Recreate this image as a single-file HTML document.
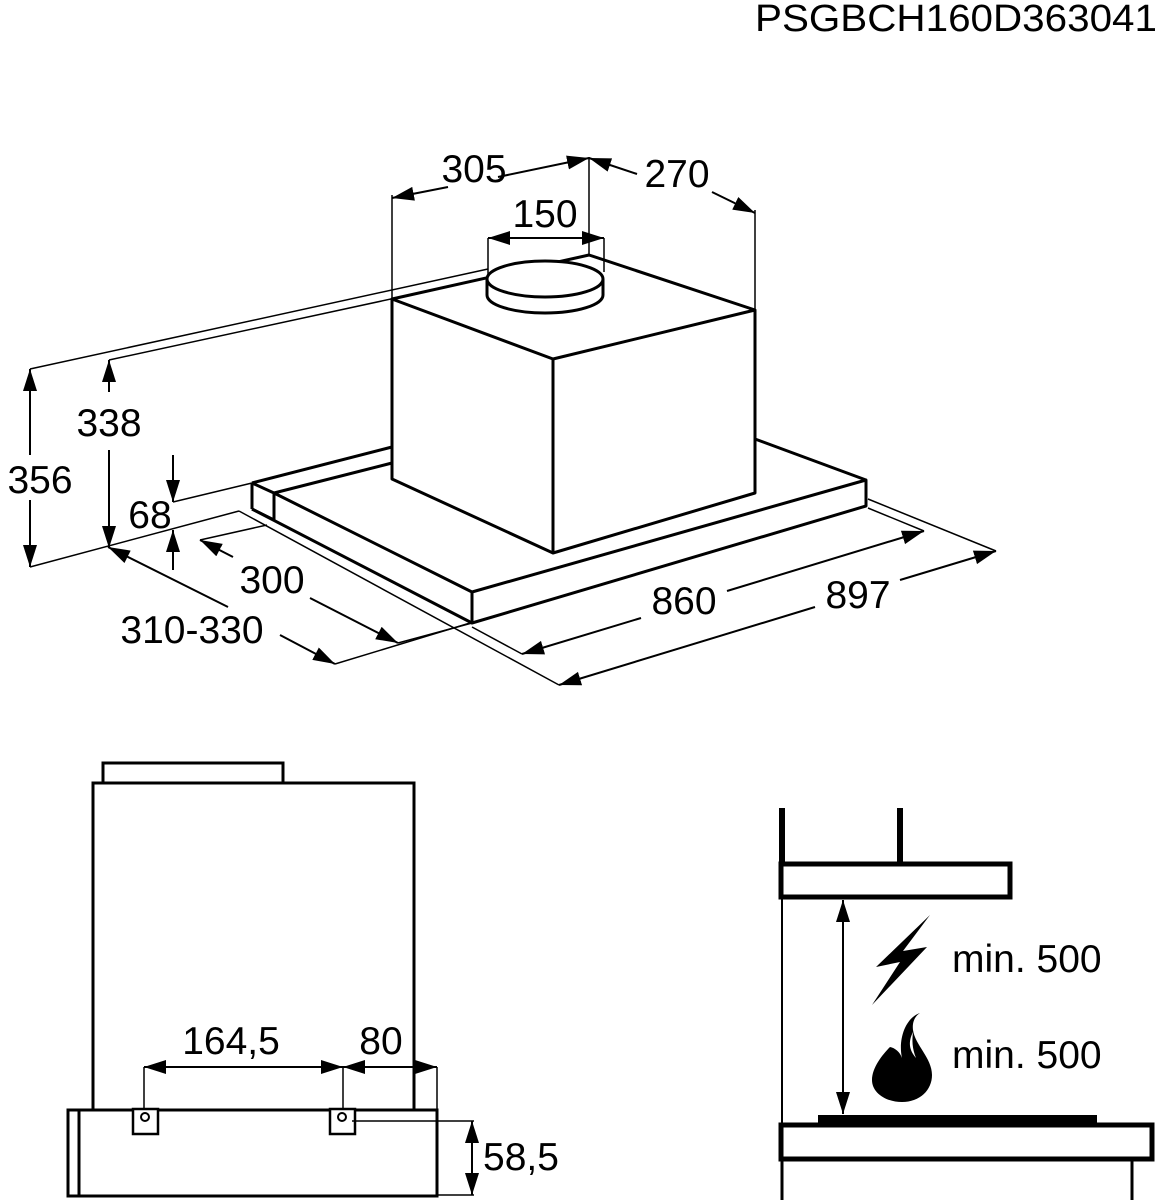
<!DOCTYPE html>
<html><head><meta charset="utf-8"><style>
html,body{margin:0;padding:0;background:#fff;}
svg{display:block;}
text{font-family:"Liberation Sans",Arial,sans-serif;fill:#000;}
</style></head><body>
<svg width="1157" height="1200" viewBox="0 0 1157 1200" xmlns="http://www.w3.org/2000/svg">
<defs>
<marker id="a" markerUnits="userSpaceOnUse" markerWidth="24" markerHeight="16" refX="22" refY="7" orient="auto-start-reverse">
<path d="M0,0 L22,7 L0,14 z" fill="#000"/>
</marker>
</defs>
<text x="1157" y="31" font-size="38" text-anchor="end" textLength="402" lengthAdjust="spacingAndGlyphs">PSGBCH160D363041</text>

<g stroke="#000" stroke-width="1.5" fill="none">
<line x1="392" y1="195" x2="392" y2="299"/>
<line x1="589" y1="157" x2="589" y2="255"/>
<line x1="755" y1="210" x2="755" y2="310"/>
<line x1="488" y1="238" x2="488" y2="283"/>
<line x1="604" y1="238" x2="604" y2="272"/>
<line x1="30" y1="369" x2="488" y2="269"/>
<line x1="109" y1="360" x2="488" y2="278"/>
<line x1="30" y1="567" x2="239" y2="511"/>
<line x1="173" y1="502" x2="252" y2="483"/>
<line x1="200" y1="540" x2="267" y2="525"/>
<line x1="398" y1="643" x2="472" y2="623"/>
<line x1="335" y1="664" x2="470" y2="623"/>
<line x1="239" y1="511" x2="559" y2="685"/>
<line x1="472" y1="627" x2="522" y2="654"/>
<line x1="868" y1="508" x2="924" y2="531"/>
<line x1="868" y1="499" x2="996" y2="551"/>
</g>
<g stroke="#000" stroke-width="2" fill="none">
<line x1="448" y1="187" x2="392" y2="198" marker-end="url(#a)"/>
<line x1="498" y1="177" x2="589" y2="158" marker-end="url(#a)"/>
<line x1="637" y1="174" x2="589" y2="158" marker-end="url(#a)"/>
<line x1="712" y1="192" x2="755" y2="213" marker-end="url(#a)"/>
<line x1="488" y1="238" x2="604" y2="238" marker-start="url(#a)" marker-end="url(#a)"/>
<line x1="30" y1="455" x2="30" y2="369" marker-end="url(#a)"/>
<line x1="30" y1="500" x2="30" y2="567" marker-end="url(#a)"/>
<line x1="109" y1="392" x2="109" y2="360" marker-end="url(#a)"/>
<line x1="109" y1="450" x2="109" y2="548" marker-end="url(#a)"/>
<line x1="173" y1="455" x2="173" y2="502" marker-end="url(#a)"/>
<line x1="173" y1="570" x2="173" y2="530" marker-end="url(#a)"/>
<line x1="233" y1="557" x2="200" y2="540" marker-end="url(#a)"/>
<line x1="310" y1="598" x2="398" y2="643" marker-end="url(#a)"/>
<line x1="228" y1="607" x2="108" y2="547" marker-end="url(#a)"/>
<line x1="280" y1="635" x2="335" y2="664" marker-end="url(#a)"/>
<line x1="641" y1="618" x2="522" y2="654" marker-end="url(#a)"/>
<line x1="727" y1="591" x2="924" y2="531" marker-end="url(#a)"/>
<line x1="815" y1="607" x2="559" y2="685" marker-end="url(#a)"/>
<line x1="900" y1="580" x2="996" y2="551" marker-end="url(#a)"/>
</g>
<g stroke="#000" stroke-width="3" fill="none" stroke-linejoin="round">
<polygon points="392,299 589,255 755,310 553,359"/>
<polyline points="392,299 392,479 553,553 755,493 755,310"/>
<line x1="553" y1="359" x2="553" y2="553"/>
<ellipse cx="545" cy="279" rx="58" ry="18" fill="#fff"/>
<line x1="487" y1="279" x2="487" y2="295"/>
<line x1="603" y1="279" x2="603" y2="295"/>
<path d="M487,295 A58,18 0 0 0 603,295"/>
<line x1="252" y1="483" x2="392" y2="447"/>
<line x1="274" y1="493" x2="392" y2="463"/>
<line x1="755" y1="439" x2="866" y2="480"/>
<polyline points="274,493 472,592 866,480 866,506 472,623 472,592"/>
<line x1="252" y1="483" x2="274" y2="493"/>
<line x1="252" y1="483" x2="252" y2="509"/>
<line x1="274" y1="493" x2="274" y2="520"/>
<line x1="252" y1="509" x2="472" y2="623"/>
<line x1="252" y1="509" x2="274" y2="520"/>
</g>
<g font-size="39" text-anchor="middle">
<text x="474" y="182">305</text>
<text x="677" y="187">270</text>
<text x="545" y="227">150</text>
<text x="40" y="493">356</text>
<text x="109" y="436">338</text>
<text x="150" y="528">68</text>
<text x="272" y="593">300</text>
<text x="192" y="643">310-330</text>
<text x="684" y="614">860</text>
<text x="858" y="608">897</text>
</g>

<g stroke="#000" stroke-width="3" fill="none">
<rect x="103" y="763" width="180" height="20"/>
<rect x="93" y="783" width="321" height="329"/>
<rect x="68" y="1110" width="369" height="86" fill="#fff"/>
<line x1="79" y1="1110" x2="79" y2="1196"/>
<rect x="133" y="1109" width="25" height="25" fill="#fff" stroke-width="2.5"/>
<rect x="330" y="1109" width="25" height="25" fill="#fff" stroke-width="2.5"/>
<circle cx="145" cy="1117" r="4" stroke-width="2"/>
<circle cx="342" cy="1117" r="4" stroke-width="2"/>
</g>
<g stroke="#000" stroke-width="1.5" fill="none">
<line x1="144" y1="1067" x2="144" y2="1109"/>
<line x1="343" y1="1067" x2="343" y2="1109"/>
<line x1="437" y1="1067" x2="437" y2="1110"/>
<line x1="352" y1="1121" x2="474" y2="1121"/>
<line x1="437" y1="1195" x2="474" y2="1195"/>
</g>
<g stroke="#000" stroke-width="2" fill="none">
<line x1="144" y1="1067" x2="343" y2="1067" marker-start="url(#a)" marker-end="url(#a)"/>
<line x1="390" y1="1067" x2="343" y2="1067" marker-end="url(#a)"/>
<line x1="390" y1="1067" x2="437" y2="1067" marker-end="url(#a)"/>
<line x1="472" y1="1158" x2="472" y2="1121" marker-end="url(#a)"/>
<line x1="472" y1="1158" x2="472" y2="1195" marker-end="url(#a)"/>
</g>
<g font-size="39" text-anchor="middle">
<text x="231" y="1054">164,5</text>
<text x="381" y="1054">80</text>
<text x="483" y="1170" text-anchor="start">58,5</text>
</g>

<g stroke="#000" fill="none">
<line x1="782" y1="808" x2="782" y2="863" stroke-width="6"/>
<line x1="900" y1="808" x2="900" y2="863" stroke-width="6"/>
<rect x="781" y="864" width="229" height="33" stroke-width="5"/>
<line x1="782" y1="897" x2="782" y2="1123" stroke-width="2"/>
<line x1="843" y1="900" x2="843" y2="1114" stroke-width="2" marker-start="url(#a)" marker-end="url(#a)"/>
<rect x="781" y="1125" width="371" height="34" stroke-width="5"/>
<line x1="782" y1="1160" x2="782" y2="1200" stroke-width="3"/>
<line x1="1132" y1="1160" x2="1132" y2="1200" stroke-width="3"/>
</g>
<rect x="818" y="1115" width="279" height="9" fill="#000"/>
<polygon points="930,915 876,967 900,962 872,1005 927,947 903,951" fill="#000"/>
<path d="M920,1013 C905,1018 898,1040 902,1058 C900,1052 895,1048 890,1047 C882,1055 872,1068 872,1080 C872,1093 886,1102 902,1102 C920,1102 932,1090 932,1075 C932,1058 915,1045 913,1030 C912,1022 915,1016 920,1013 Z" fill="#000"/>
<path d="M913,1032 C908,1042 909,1050 916,1058 C912,1048 912,1040 913,1032 Z" fill="#fff"/>
<g font-size="39">
<text x="952" y="972">min. 500</text>
<text x="952" y="1068">min. 500</text>
</g>
</svg>
</body></html>
